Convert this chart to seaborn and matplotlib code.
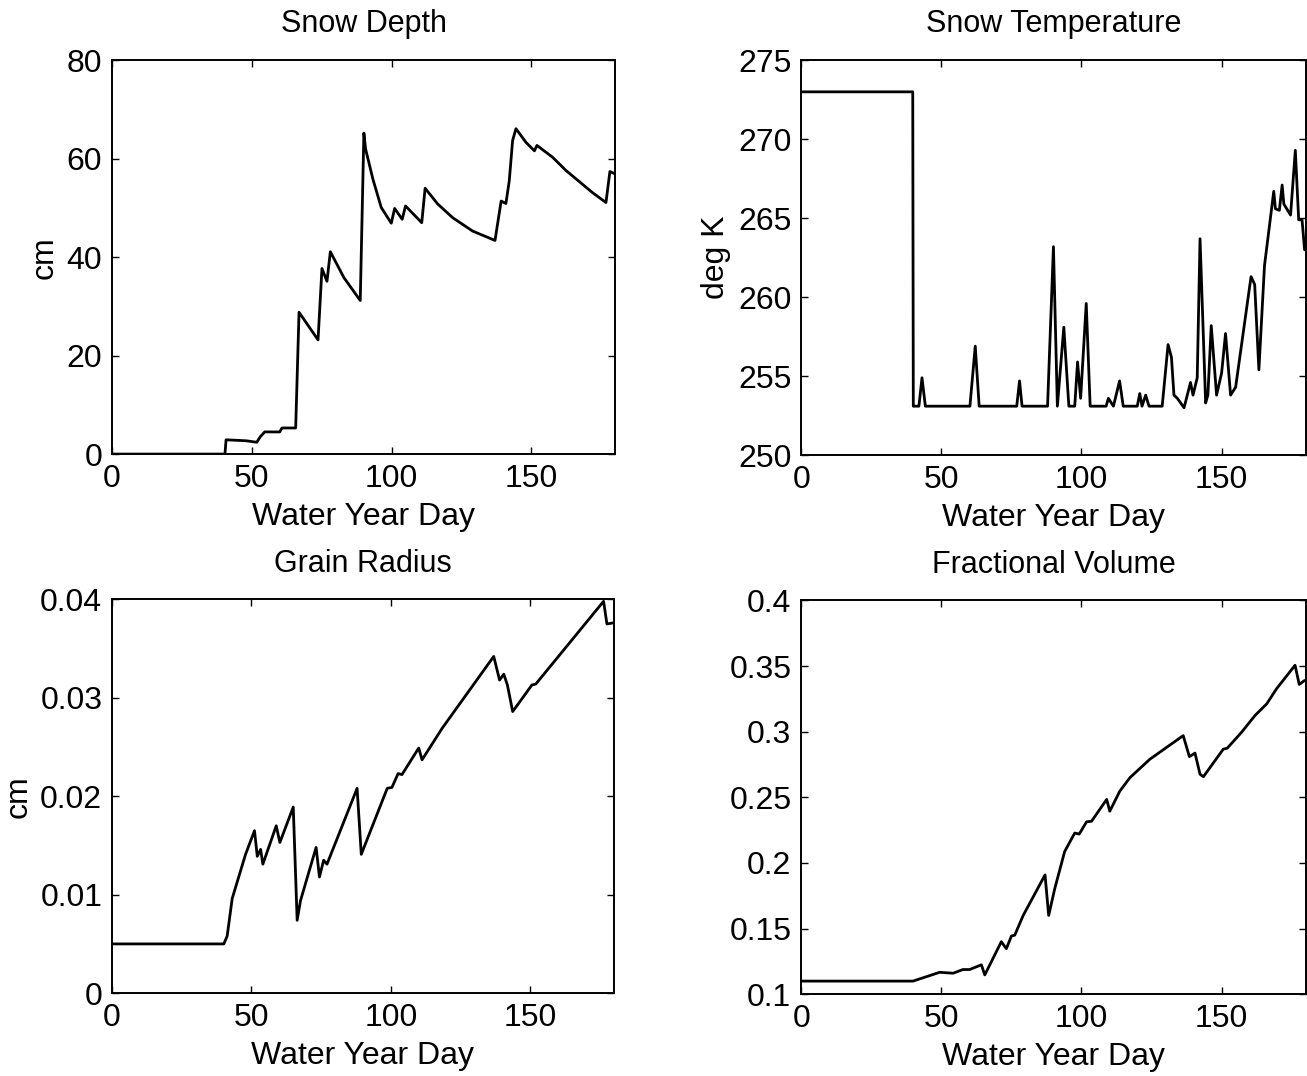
import seaborn as sns
import matplotlib
matplotlib.use("Agg")
import matplotlib.pyplot as plt
from matplotlib.ticker import FuncFormatter

# snow depth (cm)
depth_day = [0, 40.4, 40.8, 48, 51.8, 53, 54.6, 60, 60.8, 65.7, 66.9, 73.7, 75.1, 76.9,
             78.1, 83, 88.8, 90.1, 90.7, 93.3, 96.3, 99.9, 101.1, 103.8, 105, 110.8, 112,
             116.5, 121.9, 129, 137, 139.2, 140.9, 142.1, 143.3, 144.5, 148.1, 151.1, 152,
             157.6, 162.4, 166, 171.9, 176.7, 178.1, 179.6]
depth_cm = [0, 0, 2.9, 2.7, 2.4, 3.5, 4.5, 4.5, 5.3, 5.3, 28.8, 23.2, 37.7, 35.1,
            41.1, 35.8, 31.2, 65.2, 62, 55.9, 50.1, 46.9, 49.9, 47.7, 50.4, 47.0, 54.0,
            50.8, 48.0, 45.3, 43.4, 51.4, 50.9, 55.5, 63.7, 66.1, 63.3, 61.6, 62.7,
            60.3, 57.6, 55.9, 53.1, 51.1, 57.4, 57.0]

# snow temperature (deg K)
temp_day = [0, 39.8, 40.0, 42.0, 43.1, 44.3, 60.2, 62.1, 63.5, 76.9, 77.9, 78.8,
            87.9, 90.0, 91.4, 93.7, 95.5, 97.6, 98.6, 99.7, 101.7, 103.1,
            108.8, 109.6, 111.4, 113.6, 114.9, 119.9, 120.8, 121.6, 122.9, 124.1,
            128.8, 130.9, 132.1, 133.0, 134.2, 136.6, 138.9, 139.8, 141.3, 142.3,
            144.3, 145.1, 146.3, 148.2, 150.0, 151.4, 153.2, 155.0, 160.5, 161.8,
            163.3, 165.3, 168.6, 169.2, 170.6, 171.6, 172.2, 174.6, 176.3, 177.5,
            178.7, 179.6]
temp_k = [273, 273, 253.1, 253.1, 254.9, 253.1, 253.1, 256.9, 253.1, 253.1, 254.7, 253.1,
          253.1, 263.2, 253.1, 258.1, 253.1, 253.1, 255.9, 253.6, 259.6, 253.1,
          253.1, 253.6, 253.1, 254.7, 253.1, 253.1, 253.9, 253.1, 253.8, 253.1,
          253.1, 257.0, 256.2, 253.8, 253.6, 253.0, 254.6, 253.8, 254.9, 263.7,
          253.3, 253.8, 258.2, 253.8, 255.2, 257.7, 253.8, 254.3, 261.3, 260.8,
          255.4, 262.0, 266.7, 265.6, 265.5, 267.1, 265.9, 265.2, 269.3, 264.9,
          264.9, 263.0]

# grain radius (cm)
grain_day = [0, 40.1, 41.3, 43.1, 44.9, 47.9, 51.1, 52.1, 53.3, 54.1, 58.9, 60.2, 65.0,
             66.4, 67.6, 73.2, 74.4, 75.9, 77.1, 87.9, 89.4, 98.7, 100.4, 102.6, 104.0,
             110.0, 111.2, 118.4, 136.9, 139.0, 140.5, 141.8, 143.7, 150.6, 152.0,
             176.3, 177.5, 179.6]
grain_cm = [0.005, 0.005, 0.0058, 0.0096, 0.0113, 0.0141, 0.0165, 0.0139, 0.0146, 0.0131,
            0.0170, 0.0153, 0.0189, 0.0074, 0.0094, 0.0148, 0.0118, 0.0135, 0.0131,
            0.0208, 0.0141, 0.0208, 0.0209, 0.0223, 0.0222, 0.0249, 0.0237, 0.0269,
            0.0342, 0.0318, 0.0324, 0.0313, 0.0286, 0.0313, 0.0314, 0.0398, 0.0375,
            0.0376]

# fractional volume
frac_day = [0, 39.9, 49.4, 54.2, 57.7, 60.1, 64.3, 65.5, 71.4, 73.2, 75.0, 76.2, 79.2,
            87.0, 88.3, 90.5, 94.0, 97.6, 99.2, 101.8, 103.6, 109.0, 110.1, 113.7,
            117.3, 124.4, 136.3, 138.5, 140.5, 142.3, 143.5, 150.6, 152.0, 157.1,
            161.9, 166.1, 169.6, 176.2, 177.7, 179.6]
frac_vol = [0.110, 0.110, 0.1167, 0.1160, 0.1188, 0.1188, 0.1224, 0.1147, 0.140, 0.1347,
            0.1443, 0.145, 0.160, 0.1909, 0.160, 0.1807, 0.2087, 0.2228, 0.2220, 0.2313,
            0.2318, 0.2484, 0.2394, 0.2548, 0.265, 0.279, 0.297, 0.281, 0.2837, 0.2676,
            0.2657, 0.2867, 0.2874, 0.2995, 0.3123, 0.3212, 0.3327, 0.3506, 0.336, 0.339]

sns.set_style("ticks")
plt.rcParams['font.family'] = ['Liberation Sans', 'DejaVu Sans']
plt.rcParams['text.color'] = 'black'
plt.rcParams['axes.labelcolor'] = 'black'

fig = plt.figure(figsize=(13.07, 10.76), dpi=100)

panels = [
    ([0.0857, 0.578, 0.385, 0.366], depth_day, depth_cm, "Snow Depth", "cm",
     (0, 80), [0, 20, 40, 60, 80]),
    ([0.6130, 0.577, 0.386, 0.367], temp_day, temp_k, "Snow Temperature", "deg K",
     (250, 275), [250, 255, 260, 265, 270, 275]),
    ([0.0857, 0.077, 0.384, 0.366], grain_day, grain_cm, "Grain Radius", "cm",
     (0, 0.04), [0, 0.01, 0.02, 0.03, 0.04]),
    ([0.6130, 0.076, 0.386, 0.366], frac_day, frac_vol, "Fractional Volume", None,
     (0.1, 0.4), [0.1, 0.15, 0.2, 0.25, 0.3, 0.35, 0.4]),
]

for rect, xs, ys, title, ylab, ylim, yticks in panels:
    ax = fig.add_axes(rect)
    sns.lineplot(x=xs, y=ys, ax=ax, color="black", linewidth=2.0,
                 estimator=None, sort=False)
    ax.set_xlim(0, 180)
    ax.set_ylim(*ylim)
    ax.set_xticks([0, 50, 100, 150])
    ax.set_yticks(yticks)
    ax.yaxis.set_major_formatter(FuncFormatter(lambda v, p: "%g" % round(v, 4)))
    ax.tick_params(direction="in", length=5, width=1, top=True, right=True,
                   labelsize=23, pad=7, color="black", labelcolor="black")
    for s in ax.spines.values():
        s.set_visible(True)
        s.set_color("black")
        s.set_linewidth(1.4)
    ax.set_title(title, fontsize=22, pad=20, color="black")
    ax.set_xlabel("Water Year Day", fontsize=23, labelpad=6)
    if ylab:
        ax.set_ylabel(ylab, fontsize=23, labelpad=5)
    else:
        ax.set_ylabel("")

fig.savefig("out.png", dpi=100, facecolor="white")
